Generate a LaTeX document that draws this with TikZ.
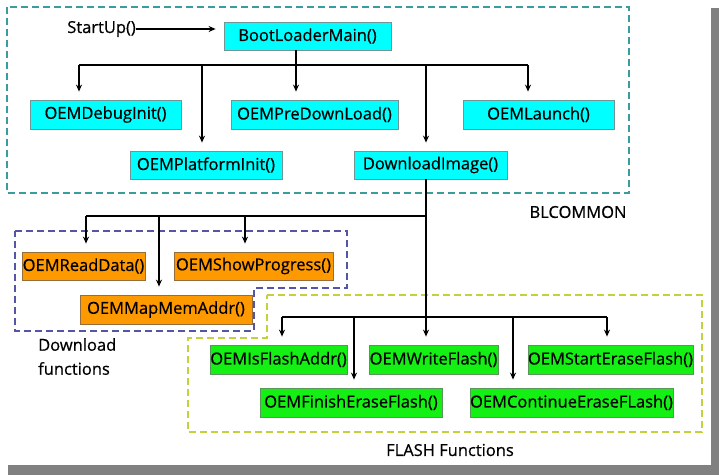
\documentclass[tikz,border=0pt]{standalone}
\usepackage{fontspec}
\setmainfont{Open Sans}
\newfontfamily\medfont{Open Sans}[FakeBold=0.6]
\usetikzlibrary{arrows.meta}
\definecolor{cyanbox}{RGB}{0,255,255}
\definecolor{cyanedge}{RGB}{110,150,150}
\definecolor{orangebox}{RGB}{255,153,0}
\definecolor{orangeedge}{RGB}{150,110,60}
\definecolor{greenbox}{RGB}{20,240,20}
\definecolor{greenedge}{RGB}{90,150,90}
\definecolor{tealdash}{RGB}{60,155,155}
\definecolor{purpledash}{RGB}{85,85,165}
\definecolor{limedash}{RGB}{195,210,60}
\definecolor{shadowgray}{RGB}{128,128,128}
\tikzset{
  fn/.style={draw, line width=0.8pt, inner sep=0pt, font=\medfont\fontsize{16.5}{18}\selectfont, text=black},
  cyanfn/.style={fn, fill=cyanbox, draw=cyanedge},
  orangefn/.style={fn, fill=orangebox, draw=orangeedge},
  greenfn/.style={fn, fill=greenbox, draw=greenedge},
  wire/.style={line width=1.5pt, black},
  arr/.style={wire, -{Stealth[length=7pt,width=6pt]}, shorten >=8pt},
  grp/.style={line width=1.1pt, dash pattern=on 7pt off 4pt},
  lbl/.style={inner sep=0pt, font=\medfont\fontsize{16.5}{24}\selectfont, text=black}
}
\begin{document}
\begin{tikzpicture}[x=1pt,y=-1pt]
\useasboundingbox (0,0) rectangle (719,475);
% drop shadow
\fill[shadowgray] (711,8) rectangle (719,475);
\fill[shadowgray] (8,465) rectangle (719,475);

% group frames
\draw[grp, tealdash] (7,7) rectangle (629,193);
\draw[grp, purpledash] (15,231) -- (347,231) -- (347,288) -- (254,288) -- (254,331) -- (15,331) -- cycle;
\draw[grp, limedash] (267,295) -- (702,295) -- (702,432) -- (188,432) -- (188,338) -- (267,338) -- cycle;

% BLCOMMON nodes
\node[cyanfn, minimum width=167pt, minimum height=28pt] (boot) at (307.5,36) {BootLoaderMain()};
\node[cyanfn, minimum width=151pt, minimum height=29pt] (debug) at (105.5,114.5) {OEMDebugInit()};
\node[cyanfn, minimum width=167pt, minimum height=29pt] (pre) at (314.5,114.5) {OEMPreDownLoad()};
\node[cyanfn, minimum width=151pt, minimum height=29pt] (launch) at (538.5,114.5) {OEMLaunch()};
\node[cyanfn, minimum width=152pt, minimum height=28pt] (plat) at (206,165) {OEMPlatformInit()};
\node[cyanfn, minimum width=153pt, minimum height=28pt] (dl) at (430.5,165) {DownloadImage()};

% Download nodes
\node[orangefn, minimum width=123pt, minimum height=28pt] (read) at (83.5,266) {OEMReadData()};
\node[orangefn, minimum width=159pt, minimum height=28pt] (show) at (253.5,266) {OEMShowProgress()};
\node[orangefn, minimum width=172pt, minimum height=29pt] (map) at (166,309.5) {OEMMapMemAddr()};

% Flash nodes
\node[greenfn, minimum width=137pt, minimum height=29pt] (isflash) at (278.5,359.5) {OEMIsFlashAddr()};
\node[greenfn, minimum width=129pt, minimum height=29pt] (write) at (433.5,359.5) {OEMWriteFlash()};
\node[greenfn, minimum width=165pt, minimum height=29pt] (start) at (610.5,359.5) {OEMStartEraseFlash()};
\node[greenfn, minimum width=182pt, minimum height=29pt] (finish) at (351,402.5) {OEMFinishEraseFlash()};
\node[greenfn, minimum width=203pt, minimum height=29pt] (cont) at (571.5,402.5) {OEMContinueEraseFLash()};

% labels
\node[lbl, anchor=east] (su) at (136,29) {StartUp()};
\node[lbl] (blc) at (578,212) {BLCOMMON};
\node[lbl, anchor=north west, align=left] (dlf) at (38,338) {Download\\functions};
\node[lbl] (ff) at (450,450) {FLASH Functions};

% StartUp -> BootLoaderMain
\draw[arr] (su.east) -- (su.east -| boot.west);

% bus 1
\coordinate (j1) at (296,65);
\coordinate (b1L) at (79,65);
\coordinate (b1P) at (202,65);
\coordinate (b1D) at (426,65);
\coordinate (b1R) at (528,65);
\draw[wire] (boot.south -| j1) -- (j1);
\draw[wire] (b1L) -- (b1R);
\draw[arr] (b1L) -- (b1L |- debug.north);
\draw[arr] (b1P) -- (b1P |- plat.north);
\draw[arr] (j1) -- (j1 |- pre.north);
\draw[arr] (b1D) -- (b1D |- dl.north);
\draw[arr] (b1R) -- (b1R |- launch.north);

% bus 2 (download)
\coordinate (d0) at (426,179);
\coordinate (b2J) at (426,216);
\coordinate (b2L) at (86,216);
\coordinate (b2M) at (159,216);
\coordinate (b2S) at (245,216);
\draw[wire] (b2J) -- (b2L);
\draw[arr] (b2L) -- (b2L |- read.north);
\draw[arr] (b2M) -- (b2M |- map.north);
\draw[arr] (b2S) -- (b2S |- show.north);

% bus 3 (flash)
\coordinate (b3J) at (426,317);
\coordinate (b3L) at (282,317);
\coordinate (b3F) at (354,317);
\coordinate (b3C) at (513,317);
\coordinate (b3R) at (607,317);
\draw[arr] (d0) -- (d0 |- write.north);
\draw[wire] (b3L) -- (b3R);
\draw[arr] (b3L) -- (b3L |- isflash.north);
\draw[arr] (b3F) -- (b3F |- finish.north);
\draw[arr] (b3C) -- (b3C |- cont.north);
\draw[arr] (b3R) -- (b3R |- start.north);
\end{tikzpicture}
\end{document}
